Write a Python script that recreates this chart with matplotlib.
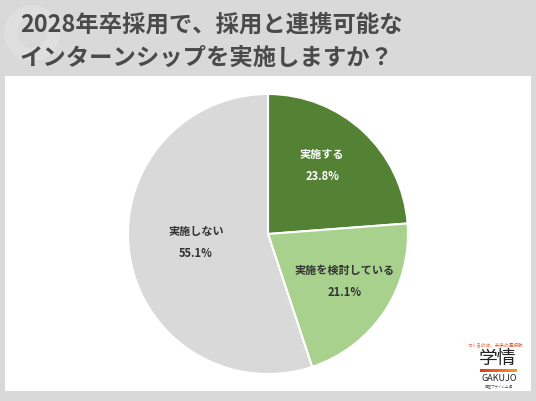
import matplotlib.pyplot as plt
from matplotlib.patches import Rectangle, Wedge
from matplotlib.colors import LinearSegmentedColormap
import numpy as np

plt.rcParams['font.family'] = ['Noto Sans CJK JP', 'DejaVu Sans']

# データ
labels = ["実施する", "実施を検討している", "実施しない"]
values = [23.8, 21.1, 55.1]
colors = ["#548235", "#a9d18e", "#d9d9d9"]
text_colors = ["white", "#333333", "#333333"]
title = "2028年卒採用で、採用と連携可能な\nインターンシップを実施しますか？"

W, H = 536, 402
fig = plt.figure(figsize=(W / 100, H / 100), dpi=100)
fig.patch.set_facecolor("#d9d9d9")

# 背景の飾り
bg = fig.add_axes([0, 0, 1, 1])
bg.set_xlim(0, W)
bg.set_ylim(H, 0)
bg.axis("off")
bg.add_patch(Wedge((32, 34), 28, 0, 360, width=13, facecolor="#dfdfdf", edgecolor="none"))
bg.add_patch(Rectangle((5, 77), 526, 315, facecolor="white", edgecolor="none"))

bg.text(20, 41, title, fontsize=16.8, fontweight="bold", color="#4a4a4a",
        va="center", ha="left", linespacing=1.5)

# ロゴ
bg.text(495, 344.5, "つくるのは、未来の選択肢", fontsize=3.3, color="#e8531f",
        ha="center", va="center", zorder=4)
bg.text(498, 359, "学情", fontsize=13.5, color="#222222", ha="center", va="center", zorder=4)
grad = np.linspace(0, 1, 50).reshape(1, -1)
cmap = LinearSegmentedColormap.from_list("g", ["#e8341c", "#f5a020"])
bg.imshow(grad, extent=(480, 517, 373, 370), cmap=cmap, aspect="auto", zorder=4)
bg.set_xlim(0, W)
bg.set_ylim(H, 0)
bg.text(499, 379, "GAKUJO", fontsize=6.5, color="#222222", ha="center", va="center", zorder=4)
bg.text(499, 386.5, "東証プライム上場", fontsize=2.5, color="#555555", ha="center", va="center", zorder=4)

# 円グラフ
cx, cy, r = 268, 235, 140
ax = fig.add_axes([(cx - r) / W, 1 - (cy + r) / H, 2 * r / W, 2 * r / H])
wedges, _ = ax.pie(values, colors=colors, startangle=90, counterclock=False,
                   wedgeprops=dict(edgecolor="white", linewidth=1.5))
ax.set_xlim(-1, 1)
ax.set_ylim(-1, 1)
ax.set_aspect("equal")

label_pos = [(0.386, 0.496), (0.55, -0.332), (-0.514, -0.054)]
for lab, v, tc, (x, y) in zip(labels, values, text_colors, label_pos):
    ax.text(x, y, f"{lab}\n{v}%", ha="center", va="center", fontsize=8,
            fontweight="bold", color=tc, linespacing=1.9)

fig.savefig("out.png", dpi=100, facecolor=fig.get_facecolor())
